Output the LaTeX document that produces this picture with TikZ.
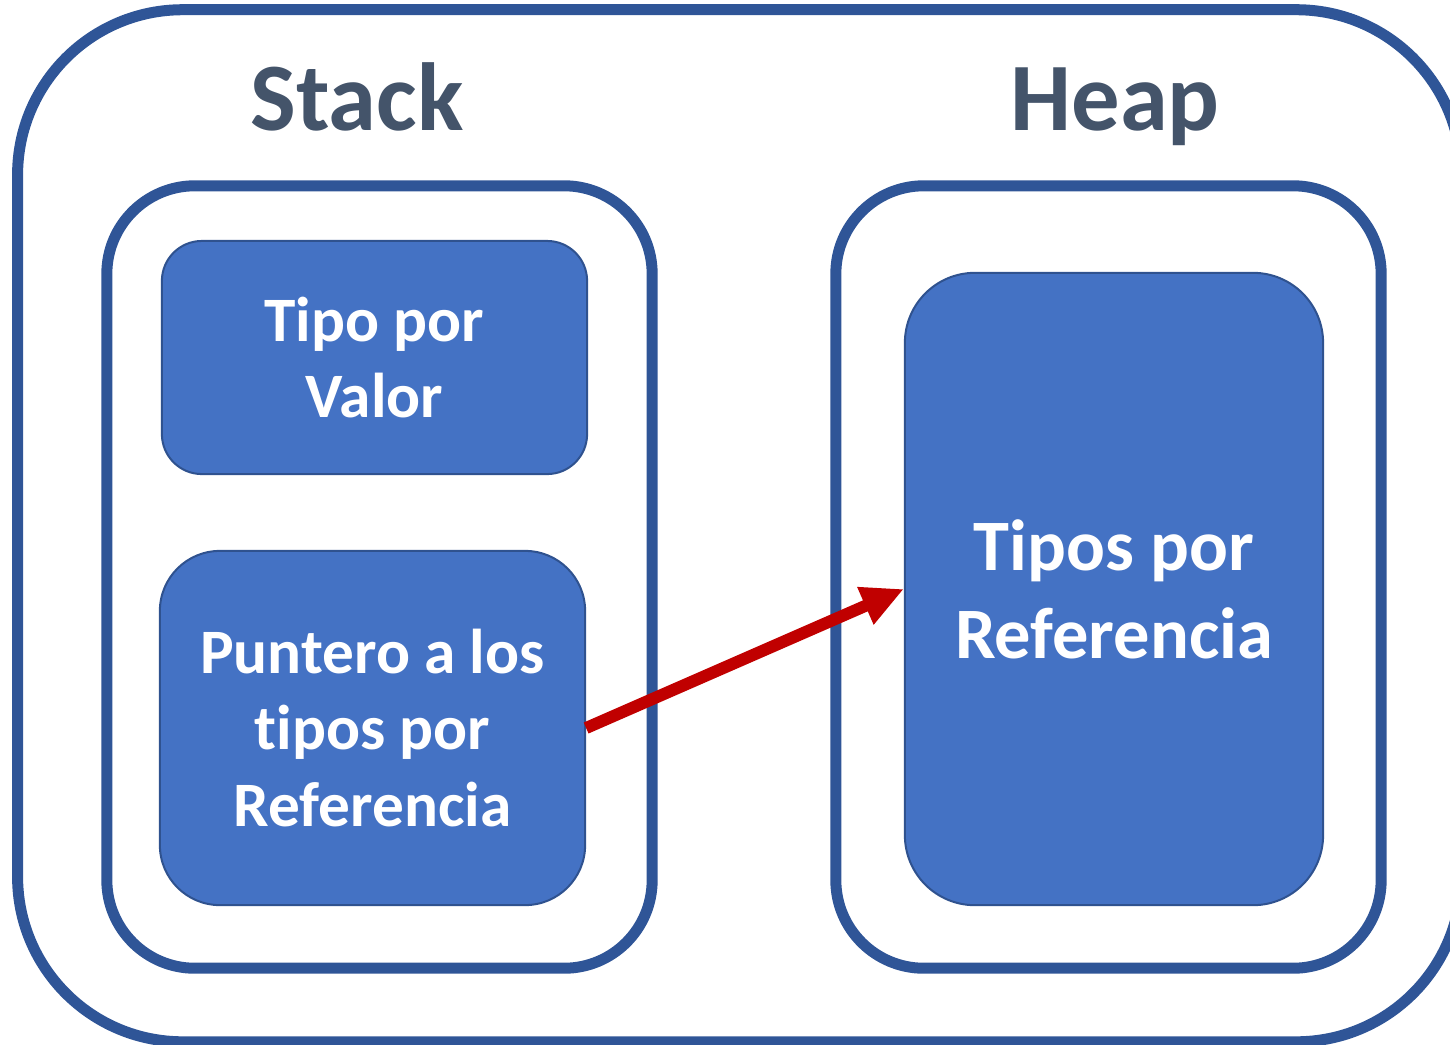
\documentclass[tikz,border=0pt]{standalone}
\usepackage[rgb]{xcolor}
\usepackage{fontspec}
\setmainfont{Carlito}[Ligatures=NoCommon]
\usetikzlibrary{arrows.meta}

\definecolor{frameblue}{HTML}{2F5597}
\definecolor{boxblue}{HTML}{4472C4}
\definecolor{boxline}{HTML}{2F528F}
\definecolor{titlegray}{HTML}{44546A}
\definecolor{arrowred}{HTML}{C00000}

\tikzset{
  frame/.style={draw=frameblue, line width=0.11cm, rectangle},
  memblock/.style={draw=boxline, fill=boxblue, line width=0.02cm, rectangle,
    text=white, align=center, font=\bfseries\fontsize{18}{21.8}\selectfont},
  title/.style={text=titlegray, anchor=base, font=\bfseries\fontsize{27.5}{30}\selectfont}
}

\begin{document}
\begin{tikzpicture}[x=0.01cm, y=-0.01cm]

\useasboundingbox (0,0) rectangle (1450,1044);

% outer frame and the two areas
\path
(739.5,525.75) node[frame, minimum width=14.43cm, minimum height=10.315cm, rounded corners=1.65cm] (memory) {}
(379.5,577) node[frame, minimum width=5.45cm, minimum height=7.82cm, rounded corners=0.88cm] (stack) {}
(1108.5,577) node[frame, minimum width=5.45cm, minimum height=7.82cm, rounded corners=0.88cm] (heap) {};

\path
(357,130) node[title] (stacktitle) {Stack}
(1115,130) node[title] (heaptitle) {Heap};

% blocks
\path
(374.5,357.5) node[memblock, minimum width=4.25cm, minimum height=2.33cm, rounded corners=0.4cm] (valor) {Tipo por\\Valor}
(372.5,728) node[memblock, minimum width=4.25cm, minimum height=3.54cm, rounded corners=0.6cm] (puntero) {Puntero a los\\tipos por\\Referencia}
(1114,589) node[memblock, minimum width=4.18cm, minimum height=6.32cm, rounded corners=0.7cm,
  font=\bfseries\fontsize{20.6}{25}\selectfont] (referencia) {Tipos por\\Referencia};

\draw[-{Triangle[length=0.42cm, width=0.38cm]}, arrowred, line width=0.12cm] (puntero.east) -- (referencia.west);

\end{tikzpicture}
\end{document}
